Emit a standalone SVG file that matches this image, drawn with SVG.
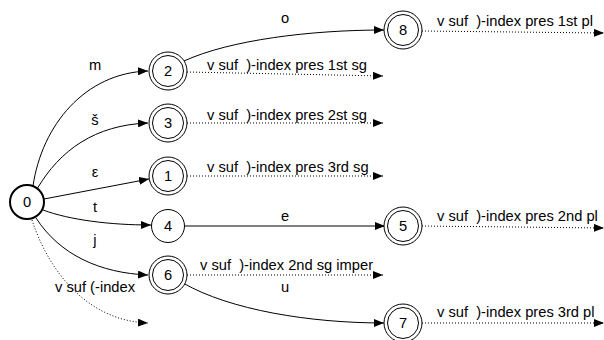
<svg xmlns="http://www.w3.org/2000/svg" width="604" height="340" viewBox="0 0 604 340">
<defs>
<marker id="ah" markerWidth="10" markerHeight="8" refX="10" refY="4" orient="auto" markerUnits="userSpaceOnUse">
<path d="M0,0 L10,4 L0,8 Z" fill="#000"/>
</marker>
<style>
text{font-family:"Liberation Sans",Arial,sans-serif;font-size:14.7px;fill:#000}
.n text{text-anchor:middle}
.c{fill:#fff;stroke:#000;stroke-width:1}
.e{fill:none;stroke:#000;stroke-width:1;marker-end:url(#ah)}
.d{fill:none;stroke:#000;stroke-width:1;stroke-dasharray:1 2;marker-end:url(#ah)}
.lab{text-anchor:middle}
</style>
</defs>
<rect width="604" height="340" fill="#fff"/>
<g id="connectors">
<path class="e" d="M33,186 C42,125 85,73 148,71"/>
<path class="e" d="M37,189 C60,150 95,125 148,123"/>
<path class="e" d="M44,199 L149,179"/>
<path class="e" d="M43,210 C70,220 110,225 151,225"/>
<path class="e" d="M36,218 C60,255 100,273 148,275"/>
<path class="d" d="M32,220 C50,275 90,321 148,323"/>
<path class="e" d="M184,61 C230,40 310,30 384,30"/>
<path class="e" d="M185,226 L385,226"/>
<path class="e" d="M183,283 C230,310 310,323 384,323"/>
<path class="d" d="M187,72 L383,76"/>
<path class="d" d="M187,123 L383,123"/>
<path class="d" d="M187,176 L383,176"/>
<path class="d" d="M187,275 L383,275"/>
<path class="d" d="M422,31 L604,33"/>
<path class="d" d="M422,226 L604,228"/>
<path class="d" d="M422,323 L604,323"/>
<text class="lab" x="95" y="70">m</text>
<text class="lab" x="95" y="125">š</text>
<text class="lab" x="95" y="177">ε</text>
<text class="lab" x="95" y="212">t</text>
<text class="lab" x="95" y="245">j</text>
<text x="55" y="292">v suf (-index</text>
<text class="lab" x="285" y="23">o</text>
<text class="lab" x="285" y="221">e</text>
<text class="lab" x="285" y="292">u</text>
<text x="207" y="70">v suf &#160;)-index pres 1st sg</text>
<text x="207" y="120">v suf &#160;)-index pres 2st sg</text>
<text x="207" y="172">v suf &#160;)-index pres 3rd sg</text>
<text x="200" y="270">v suf &#160;)-index 2nd sg imper</text>
<text x="437" y="26">v suf &#160;)-index pres 1st pl</text>
<text x="437" y="221">v suf &#160;)-index pres 2nd pl</text>
<text x="437" y="317">v suf &#160;)-index pres 3rd pl</text>
</g>
<g id="n0" class="n"><circle class="c" cx="27" cy="202" r="17" style="stroke-width:2"/><text x="27" y="207">0</text></g>
<g id="n2" class="n"><circle class="c" cx="168" cy="71" r="19"/><circle class="c" cx="168" cy="71" r="15.5"/><text x="168" y="76">2</text></g>
<g id="n3" class="n"><circle class="c" cx="168" cy="123" r="19"/><circle class="c" cx="168" cy="123" r="15.5"/><text x="168" y="128">3</text></g>
<g id="n1" class="n"><circle class="c" cx="168" cy="176" r="19"/><circle class="c" cx="168" cy="176" r="15.5"/><text x="168" y="181">1</text></g>
<g id="n4" class="n"><circle class="c" cx="168" cy="226" r="16.5"/><text x="168" y="231">4</text></g>
<g id="n6" class="n"><circle class="c" cx="168" cy="275" r="19"/><circle class="c" cx="168" cy="275" r="15.5"/><text x="168" y="280">6</text></g>
<g id="n8" class="n"><circle class="c" cx="403" cy="30" r="19"/><circle class="c" cx="403" cy="30" r="15.5"/><text x="403" y="35">8</text></g>
<g id="n5" class="n"><circle class="c" cx="403" cy="226" r="19"/><circle class="c" cx="403" cy="226" r="15.5"/><text x="403" y="231">5</text></g>
<g id="n7" class="n"><circle class="c" cx="403" cy="323" r="19"/><circle class="c" cx="403" cy="323" r="15.5"/><text x="403" y="328">7</text></g>
</svg>
